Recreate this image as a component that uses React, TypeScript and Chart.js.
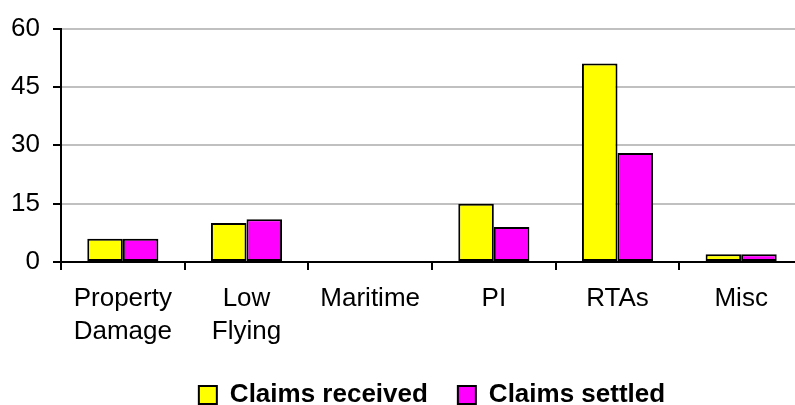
import React, { useEffect, useRef } from 'react';
import { Chart, registerables } from 'chart.js';

Chart.register(...registerables);

const categories: (string | string[])[] = [['Property', 'Damage'], ['Low', 'Flying'], 'Maritime', 'PI', 'RTAs', 'Misc'];
const claimsReceived = [6, 10, 0, 15, 51, 2];
const claimsSettled = [6, 11, 0, 9, 28, 2];
const yTicks = [0, 15, 30, 45, 60];

const FONT = "'Liberation Sans', Arial, sans-serif";

export default function App() {
  const ref = useRef<HTMLCanvasElement | null>(null);

  useEffect(() => {
    if (!ref.current) return;
    const legendPad = 30;
    const legendHeight = 26 + legendPad + 10;
    const canvasH = 418;
    const chart = new Chart(ref.current, {
      type: 'bar',
      data: {
        labels: categories,
        datasets: [
          {
            label: 'Claims received',
            data: claimsReceived,
            backgroundColor: '#FFFF00',
            borderColor: '#000000',
            borderWidth: 2,
            borderSkipped: false,
          },
          {
            label: 'Claims settled',
            data: claimsSettled,
            backgroundColor: '#FF00FF',
            borderColor: '#000000',
            borderWidth: 2,
            borderSkipped: false,
          },
        ],
      },
      options: {
        animation: false,
        responsive: false,
        devicePixelRatio: 1,
        layout: { padding: { top: 26, right: 57, left: 0, bottom: 0 } },
        datasets: { bar: { categoryPercentage: 0.575, barPercentage: 1 } },
        scales: {
          x: {
            afterFit: (s: any) => {
              s.height = canvasH - legendHeight - 262;
            },
            grid: { drawOnChartArea: false, drawTicks: true, tickLength: 8, color: '#000', lineWidth: 2 },
            border: { color: '#000', width: 2 },
            ticks: {
              color: '#000',
              font: { family: FONT, size: 26, lineHeight: 1.27 },
              padding: 12.5,
              maxRotation: 0,
              autoSkip: false,
            },
          },
          y: {
            min: 0,
            max: 60,
            afterBuildTicks: (s: any) => {
              s.ticks = yTicks.map((v) => ({ value: v }));
            },
            afterFit: (s: any) => {
              s.width = 61;
            },
            grid: { color: '#c0c0c0', lineWidth: 2, tickColor: '#000', tickLength: 8, drawTicks: true },
            border: { color: '#000', width: 2 },
            ticks: { color: '#000', font: { family: FONT, size: 26 }, padding: 13 },
          },
        },
        plugins: {
          legend: {
            position: 'bottom',
            fullSize: false,
            labels: {
              boxWidth: 18,
              boxHeight: 18,
              padding: legendPad,
              color: '#000',
              font: { family: FONT, size: 26, weight: 'bold' },
            },
          },
          tooltip: { enabled: false },
        },
      },
    } as any);
    return () => chart.destroy();
  }, []);

  return (
    <div style={{ position: 'absolute', left: 0, top: 0, width: 795, height: 405, overflow: 'hidden', background: '#fff' }}>
      <canvas ref={ref} width={860} height={418} style={{ display: 'block' }} />
    </div>
  );
}
